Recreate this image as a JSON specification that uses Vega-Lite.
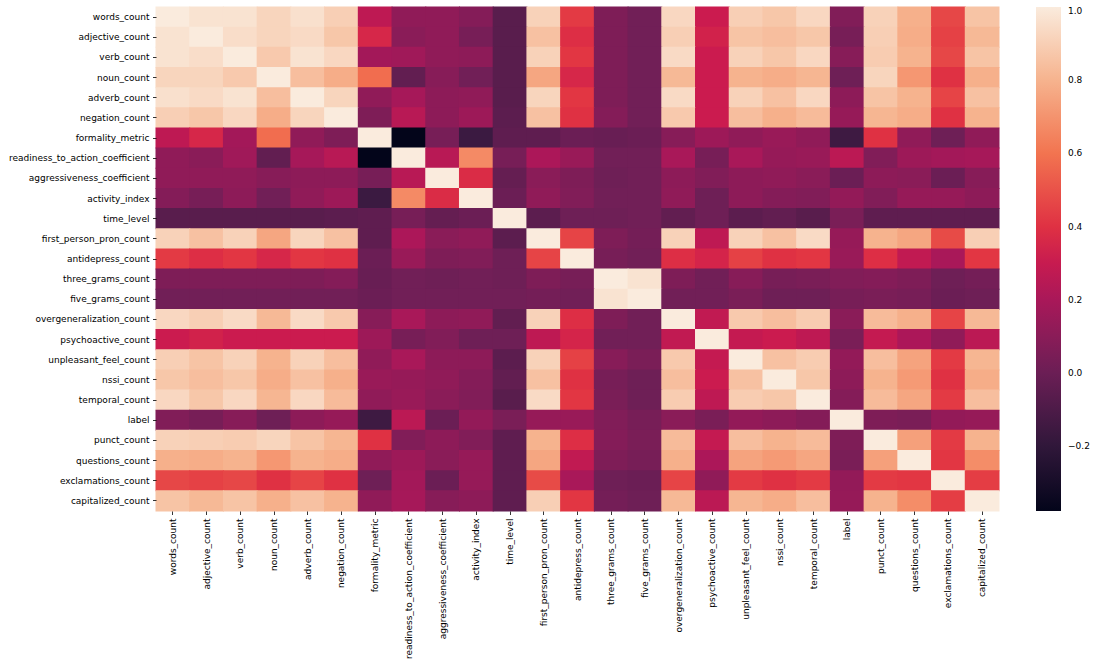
{
  "$schema": "https://vega.github.io/schema/vega-lite/v6.json",
  "width": 843,
  "height": 504,
  "padding": {"left": 8, "top": 6, "right": 5, "bottom": 5},
  "background": "white",
  "config": {"view": {"stroke": null}, "font": "DejaVu Sans"},
  "datasets": {
    "names": [
      {"k": 0, "name": "words_count"}, {"k": 1, "name": "adjective_count"}, {"k": 2, "name": "verb_count"},
      {"k": 3, "name": "noun_count"}, {"k": 4, "name": "adverb_count"}, {"k": 5, "name": "negation_count"},
      {"k": 6, "name": "formality_metric"}, {"k": 7, "name": "readiness_to_action_coefficient"},
      {"k": 8, "name": "aggressiveness_coefficient"}, {"k": 9, "name": "activity_index"},
      {"k": 10, "name": "time_level"}, {"k": 11, "name": "first_person_pron_count"},
      {"k": 12, "name": "antidepress_count"}, {"k": 13, "name": "three_grams_count"},
      {"k": 14, "name": "five_grams_count"}, {"k": 15, "name": "overgeneralization_count"},
      {"k": 16, "name": "psychoactive_count"}, {"k": 17, "name": "unpleasant_feel_count"},
      {"k": 18, "name": "nssi_count"}, {"k": 19, "name": "temporal_count"}, {"k": 20, "name": "label"},
      {"k": 21, "name": "punct_count"}, {"k": 22, "name": "questions_count"},
      {"k": 23, "name": "exclamations_count"}, {"k": 24, "name": "capitalized_count"}
    ],
    "cells": [
{"i":0,"j":0,"v":1},{"i":0,"j":1,"v":0.97},{"i":0,"j":2,"v":0.97},{"i":0,"j":3,"v":0.92},{"i":0,"j":4,"v":0.96},{"i":0,"j":5,"v":0.9},{"i":0,"j":6,"v":0.27},{"i":0,"j":7,"v":0.12},{"i":0,"j":8,"v":0.12},{"i":0,"j":9,"v":0.08},{"i":0,"j":10,"v":-0.06},{"i":0,"j":11,"v":0.91},{"i":0,"j":12,"v":0.43},{"i":0,"j":13,"v":0.06},{"i":0,"j":14,"v":0.02},{"i":0,"j":15,"v":0.93},{"i":0,"j":16,"v":0.31},{"i":0,"j":17,"v":0.9},{"i":0,"j":18,"v":0.87},{"i":0,"j":19,"v":0.93},{"i":0,"j":20,"v":0.07},{"i":0,"j":21,"v":0.91},{"i":0,"j":22,"v":0.79},{"i":0,"j":23,"v":0.47},{"i":0,"j":24,"v":0.86},
{"i":1,"j":0,"v":0.97},{"i":1,"j":1,"v":1},{"i":1,"j":2,"v":0.95},{"i":1,"j":3,"v":0.92},{"i":1,"j":4,"v":0.94},{"i":1,"j":5,"v":0.87},{"i":1,"j":6,"v":0.36},{"i":1,"j":7,"v":0.1},{"i":1,"j":8,"v":0.12},{"i":1,"j":9,"v":0.04},{"i":1,"j":10,"v":-0.06},{"i":1,"j":11,"v":0.85},{"i":1,"j":12,"v":0.39},{"i":1,"j":13,"v":0.06},{"i":1,"j":14,"v":0.02},{"i":1,"j":15,"v":0.9},{"i":1,"j":16,"v":0.34},{"i":1,"j":17,"v":0.86},{"i":1,"j":18,"v":0.84},{"i":1,"j":19,"v":0.87},{"i":1,"j":20,"v":0.04},{"i":1,"j":21,"v":0.9},{"i":1,"j":22,"v":0.78},{"i":1,"j":23,"v":0.45},{"i":1,"j":24,"v":0.82},
{"i":2,"j":0,"v":0.97},{"i":2,"j":1,"v":0.95},{"i":2,"j":2,"v":1},{"i":2,"j":3,"v":0.88},{"i":2,"j":4,"v":0.97},{"i":2,"j":5,"v":0.93},{"i":2,"j":6,"v":0.18},{"i":2,"j":7,"v":0.17},{"i":2,"j":8,"v":0.12},{"i":2,"j":9,"v":0.11},{"i":2,"j":10,"v":-0.06},{"i":2,"j":11,"v":0.91},{"i":2,"j":12,"v":0.42},{"i":2,"j":13,"v":0.06},{"i":2,"j":14,"v":0.02},{"i":2,"j":15,"v":0.94},{"i":2,"j":16,"v":0.31},{"i":2,"j":17,"v":0.91},{"i":2,"j":18,"v":0.87},{"i":2,"j":19,"v":0.93},{"i":2,"j":20,"v":0.09},{"i":2,"j":21,"v":0.89},{"i":2,"j":22,"v":0.8},{"i":2,"j":23,"v":0.47},{"i":2,"j":24,"v":0.86},
{"i":3,"j":0,"v":0.92},{"i":3,"j":1,"v":0.92},{"i":3,"j":2,"v":0.88},{"i":3,"j":3,"v":1},{"i":3,"j":4,"v":0.84},{"i":3,"j":5,"v":0.78},{"i":3,"j":6,"v":0.58},{"i":3,"j":7,"v":-0.03},{"i":3,"j":8,"v":0.09},{"i":3,"j":9,"v":0.02},{"i":3,"j":10,"v":-0.06},{"i":3,"j":11,"v":0.76},{"i":3,"j":12,"v":0.36},{"i":3,"j":13,"v":0.06},{"i":3,"j":14,"v":0.02},{"i":3,"j":15,"v":0.82},{"i":3,"j":16,"v":0.31},{"i":3,"j":17,"v":0.8},{"i":3,"j":18,"v":0.78},{"i":3,"j":19,"v":0.81},{"i":3,"j":20,"v":0.01},{"i":3,"j":21,"v":0.92},{"i":3,"j":22,"v":0.71},{"i":3,"j":23,"v":0.4},{"i":3,"j":24,"v":0.79},
{"i":4,"j":0,"v":0.96},{"i":4,"j":1,"v":0.94},{"i":4,"j":2,"v":0.97},{"i":4,"j":3,"v":0.84},{"i":4,"j":4,"v":1},{"i":4,"j":5,"v":0.92},{"i":4,"j":6,"v":0.12},{"i":4,"j":7,"v":0.19},{"i":4,"j":8,"v":0.11},{"i":4,"j":9,"v":0.12},{"i":4,"j":10,"v":-0.06},{"i":4,"j":11,"v":0.92},{"i":4,"j":12,"v":0.42},{"i":4,"j":13,"v":0.06},{"i":4,"j":14,"v":0.02},{"i":4,"j":15,"v":0.94},{"i":4,"j":16,"v":0.31},{"i":4,"j":17,"v":0.91},{"i":4,"j":18,"v":0.85},{"i":4,"j":19,"v":0.93},{"i":4,"j":20,"v":0.11},{"i":4,"j":21,"v":0.86},{"i":4,"j":22,"v":0.8},{"i":4,"j":23,"v":0.46},{"i":4,"j":24,"v":0.85},
{"i":5,"j":0,"v":0.9},{"i":5,"j":1,"v":0.87},{"i":5,"j":2,"v":0.93},{"i":5,"j":3,"v":0.78},{"i":5,"j":4,"v":0.92},{"i":5,"j":5,"v":1},{"i":5,"j":6,"v":0.06},{"i":5,"j":7,"v":0.25},{"i":5,"j":8,"v":0.11},{"i":5,"j":9,"v":0.16},{"i":5,"j":10,"v":-0.05},{"i":5,"j":11,"v":0.85},{"i":5,"j":12,"v":0.4},{"i":5,"j":13,"v":0.08},{"i":5,"j":14,"v":0.02},{"i":5,"j":15,"v":0.88},{"i":5,"j":16,"v":0.31},{"i":5,"j":17,"v":0.84},{"i":5,"j":18,"v":0.79},{"i":5,"j":19,"v":0.83},{"i":5,"j":20,"v":0.14},{"i":5,"j":21,"v":0.81},{"i":5,"j":22,"v":0.78},{"i":5,"j":23,"v":0.4},{"i":5,"j":24,"v":0.8},
{"i":6,"j":0,"v":0.27},{"i":6,"j":1,"v":0.36},{"i":6,"j":2,"v":0.18},{"i":6,"j":3,"v":0.58},{"i":6,"j":4,"v":0.12},{"i":6,"j":5,"v":0.06},{"i":6,"j":6,"v":1},{"i":6,"j":7,"v":-0.377},{"i":6,"j":8,"v":0.04},{"i":6,"j":9,"v":-0.16},{"i":6,"j":10,"v":-0.04},{"i":6,"j":11,"v":-0.04},{"i":6,"j":12,"v":0},{"i":6,"j":13,"v":-0.01},{"i":6,"j":14,"v":0},{"i":6,"j":15,"v":0.09},{"i":6,"j":16,"v":0.16},{"i":6,"j":17,"v":0.12},{"i":6,"j":18,"v":0.15},{"i":6,"j":19,"v":0.12},{"i":6,"j":20,"v":-0.15},{"i":6,"j":21,"v":0.4},{"i":6,"j":22,"v":0.12},{"i":6,"j":23,"v":0.01},{"i":6,"j":24,"v":0.12},
{"i":7,"j":0,"v":0.12},{"i":7,"j":1,"v":0.1},{"i":7,"j":2,"v":0.17},{"i":7,"j":3,"v":-0.03},{"i":7,"j":4,"v":0.19},{"i":7,"j":5,"v":0.25},{"i":7,"j":6,"v":-0.377},{"i":7,"j":7,"v":1},{"i":7,"j":8,"v":0.25},{"i":7,"j":9,"v":0.67},{"i":7,"j":10,"v":0.04},{"i":7,"j":11,"v":0.21},{"i":7,"j":12,"v":0.15},{"i":7,"j":13,"v":0.02},{"i":7,"j":14,"v":0.02},{"i":7,"j":15,"v":0.2},{"i":7,"j":16,"v":0.04},{"i":7,"j":17,"v":0.2},{"i":7,"j":18,"v":0.14},{"i":7,"j":19,"v":0.15},{"i":7,"j":20,"v":0.26},{"i":7,"j":21,"v":0.07},{"i":7,"j":22,"v":0.16},{"i":7,"j":23,"v":0.18},{"i":7,"j":24,"v":0.19},
{"i":8,"j":0,"v":0.12},{"i":8,"j":1,"v":0.12},{"i":8,"j":2,"v":0.12},{"i":8,"j":3,"v":0.09},{"i":8,"j":4,"v":0.11},{"i":8,"j":5,"v":0.11},{"i":8,"j":6,"v":0.04},{"i":8,"j":7,"v":0.25},{"i":8,"j":8,"v":1},{"i":8,"j":9,"v":0.38},{"i":8,"j":10,"v":-0.02},{"i":8,"j":11,"v":0.1},{"i":8,"j":12,"v":0.06},{"i":8,"j":13,"v":0.01},{"i":8,"j":14,"v":0.02},{"i":8,"j":15,"v":0.11},{"i":8,"j":16,"v":0.07},{"i":8,"j":17,"v":0.11},{"i":8,"j":18,"v":0.12},{"i":8,"j":19,"v":0.1},{"i":8,"j":20,"v":0},{"i":8,"j":21,"v":0.11},{"i":8,"j":22,"v":0.1},{"i":8,"j":23,"v":0},{"i":8,"j":24,"v":0.09},
{"i":9,"j":0,"v":0.08},{"i":9,"j":1,"v":0.04},{"i":9,"j":2,"v":0.11},{"i":9,"j":3,"v":0.02},{"i":9,"j":4,"v":0.12},{"i":9,"j":5,"v":0.16},{"i":9,"j":6,"v":-0.16},{"i":9,"j":7,"v":0.67},{"i":9,"j":8,"v":0.38},{"i":9,"j":9,"v":1},{"i":9,"j":10,"v":0},{"i":9,"j":11,"v":0.12},{"i":9,"j":12,"v":0.07},{"i":9,"j":13,"v":0.02},{"i":9,"j":14,"v":0.02},{"i":9,"j":15,"v":0.12},{"i":9,"j":16,"v":0.01},{"i":9,"j":17,"v":0.11},{"i":9,"j":18,"v":0.08},{"i":9,"j":19,"v":0.07},{"i":9,"j":20,"v":0.13},{"i":9,"j":21,"v":0.07},{"i":9,"j":22,"v":0.14},{"i":9,"j":23,"v":0.14},{"i":9,"j":24,"v":0.11},
{"i":10,"j":0,"v":-0.06},{"i":10,"j":1,"v":-0.06},{"i":10,"j":2,"v":-0.06},{"i":10,"j":3,"v":-0.06},{"i":10,"j":4,"v":-0.06},{"i":10,"j":5,"v":-0.05},{"i":10,"j":6,"v":-0.04},{"i":10,"j":7,"v":0.04},{"i":10,"j":8,"v":-0.02},{"i":10,"j":9,"v":0},{"i":10,"j":10,"v":1},{"i":10,"j":11,"v":-0.05},{"i":10,"j":12,"v":0.01},{"i":10,"j":13,"v":0.01},{"i":10,"j":14,"v":0.02},{"i":10,"j":15,"v":-0.03},{"i":10,"j":16,"v":0.01},{"i":10,"j":17,"v":-0.05},{"i":10,"j":18,"v":-0.03},{"i":10,"j":19,"v":-0.06},{"i":10,"j":20,"v":0.05},{"i":10,"j":21,"v":-0.04},{"i":10,"j":22,"v":-0.04},{"i":10,"j":23,"v":-0.04},{"i":10,"j":24,"v":-0.04},
{"i":11,"j":0,"v":0.91},{"i":11,"j":1,"v":0.85},{"i":11,"j":2,"v":0.91},{"i":11,"j":3,"v":0.76},{"i":11,"j":4,"v":0.92},{"i":11,"j":5,"v":0.85},{"i":11,"j":6,"v":-0.04},{"i":11,"j":7,"v":0.21},{"i":11,"j":8,"v":0.1},{"i":11,"j":9,"v":0.12},{"i":11,"j":10,"v":-0.05},{"i":11,"j":11,"v":1},{"i":11,"j":12,"v":0.46},{"i":11,"j":13,"v":0.06},{"i":11,"j":14,"v":0.03},{"i":11,"j":15,"v":0.91},{"i":11,"j":16,"v":0.27},{"i":11,"j":17,"v":0.91},{"i":11,"j":18,"v":0.85},{"i":11,"j":19,"v":0.94},{"i":11,"j":20,"v":0.14},{"i":11,"j":21,"v":0.8},{"i":11,"j":22,"v":0.76},{"i":11,"j":23,"v":0.48},{"i":11,"j":24,"v":0.9},
{"i":12,"j":0,"v":0.43},{"i":12,"j":1,"v":0.39},{"i":12,"j":2,"v":0.42},{"i":12,"j":3,"v":0.36},{"i":12,"j":4,"v":0.42},{"i":12,"j":5,"v":0.4},{"i":12,"j":6,"v":0},{"i":12,"j":7,"v":0.15},{"i":12,"j":8,"v":0.06},{"i":12,"j":9,"v":0.07},{"i":12,"j":10,"v":0.01},{"i":12,"j":11,"v":0.46},{"i":12,"j":12,"v":1},{"i":12,"j":13,"v":0.04},{"i":12,"j":14,"v":0.02},{"i":12,"j":15,"v":0.39},{"i":12,"j":16,"v":0.35},{"i":12,"j":17,"v":0.45},{"i":12,"j":18,"v":0.4},{"i":12,"j":19,"v":0.42},{"i":12,"j":20,"v":0.15},{"i":12,"j":21,"v":0.39},{"i":12,"j":22,"v":0.28},{"i":12,"j":23,"v":0.2},{"i":12,"j":24,"v":0.42},
{"i":13,"j":0,"v":0.06},{"i":13,"j":1,"v":0.06},{"i":13,"j":2,"v":0.06},{"i":13,"j":3,"v":0.06},{"i":13,"j":4,"v":0.06},{"i":13,"j":5,"v":0.08},{"i":13,"j":6,"v":-0.01},{"i":13,"j":7,"v":0.02},{"i":13,"j":8,"v":0.01},{"i":13,"j":9,"v":0.02},{"i":13,"j":10,"v":0.01},{"i":13,"j":11,"v":0.06},{"i":13,"j":12,"v":0.04},{"i":13,"j":13,"v":1},{"i":13,"j":14,"v":0.97},{"i":13,"j":15,"v":0.06},{"i":13,"j":16,"v":0.02},{"i":13,"j":17,"v":0.09},{"i":13,"j":18,"v":0.04},{"i":13,"j":19,"v":0.05},{"i":13,"j":20,"v":0.07},{"i":13,"j":21,"v":0.08},{"i":13,"j":22,"v":0.06},{"i":13,"j":23,"v":0.01},{"i":13,"j":24,"v":0.03},
{"i":14,"j":0,"v":0.02},{"i":14,"j":1,"v":0.02},{"i":14,"j":2,"v":0.02},{"i":14,"j":3,"v":0.02},{"i":14,"j":4,"v":0.02},{"i":14,"j":5,"v":0.02},{"i":14,"j":6,"v":0},{"i":14,"j":7,"v":0.02},{"i":14,"j":8,"v":0.02},{"i":14,"j":9,"v":0.02},{"i":14,"j":10,"v":0.02},{"i":14,"j":11,"v":0.03},{"i":14,"j":12,"v":0.02},{"i":14,"j":13,"v":0.97},{"i":14,"j":14,"v":1},{"i":14,"j":15,"v":0.02},{"i":14,"j":16,"v":0.02},{"i":14,"j":17,"v":0.05},{"i":14,"j":18,"v":0.01},{"i":14,"j":19,"v":0.01},{"i":14,"j":20,"v":0.04},{"i":14,"j":21,"v":0.05},{"i":14,"j":22,"v":0.04},{"i":14,"j":23,"v":0},{"i":14,"j":24,"v":0.01},
{"i":15,"j":0,"v":0.93},{"i":15,"j":1,"v":0.9},{"i":15,"j":2,"v":0.94},{"i":15,"j":3,"v":0.82},{"i":15,"j":4,"v":0.94},{"i":15,"j":5,"v":0.88},{"i":15,"j":6,"v":0.09},{"i":15,"j":7,"v":0.2},{"i":15,"j":8,"v":0.11},{"i":15,"j":9,"v":0.12},{"i":15,"j":10,"v":-0.03},{"i":15,"j":11,"v":0.91},{"i":15,"j":12,"v":0.39},{"i":15,"j":13,"v":0.06},{"i":15,"j":14,"v":0.02},{"i":15,"j":15,"v":1},{"i":15,"j":16,"v":0.28},{"i":15,"j":17,"v":0.88},{"i":15,"j":18,"v":0.84},{"i":15,"j":19,"v":0.89},{"i":15,"j":20,"v":0.1},{"i":15,"j":21,"v":0.83},{"i":15,"j":22,"v":0.79},{"i":15,"j":23,"v":0.46},{"i":15,"j":24,"v":0.82},
{"i":16,"j":0,"v":0.31},{"i":16,"j":1,"v":0.34},{"i":16,"j":2,"v":0.31},{"i":16,"j":3,"v":0.31},{"i":16,"j":4,"v":0.31},{"i":16,"j":5,"v":0.31},{"i":16,"j":6,"v":0.16},{"i":16,"j":7,"v":0.04},{"i":16,"j":8,"v":0.07},{"i":16,"j":9,"v":0.01},{"i":16,"j":10,"v":0.01},{"i":16,"j":11,"v":0.27},{"i":16,"j":12,"v":0.35},{"i":16,"j":13,"v":0.02},{"i":16,"j":14,"v":0.02},{"i":16,"j":15,"v":0.28},{"i":16,"j":16,"v":1},{"i":16,"j":17,"v":0.29},{"i":16,"j":18,"v":0.31},{"i":16,"j":19,"v":0.27},{"i":16,"j":20,"v":0.05},{"i":16,"j":21,"v":0.29},{"i":16,"j":22,"v":0.21},{"i":16,"j":23,"v":0.12},{"i":16,"j":24,"v":0.26},
{"i":17,"j":0,"v":0.9},{"i":17,"j":1,"v":0.86},{"i":17,"j":2,"v":0.91},{"i":17,"j":3,"v":0.8},{"i":17,"j":4,"v":0.91},{"i":17,"j":5,"v":0.84},{"i":17,"j":6,"v":0.12},{"i":17,"j":7,"v":0.2},{"i":17,"j":8,"v":0.11},{"i":17,"j":9,"v":0.11},{"i":17,"j":10,"v":-0.05},{"i":17,"j":11,"v":0.91},{"i":17,"j":12,"v":0.45},{"i":17,"j":13,"v":0.09},{"i":17,"j":14,"v":0.05},{"i":17,"j":15,"v":0.88},{"i":17,"j":16,"v":0.29},{"i":17,"j":17,"v":1},{"i":17,"j":18,"v":0.85},{"i":17,"j":19,"v":0.89},{"i":17,"j":20,"v":0.13},{"i":17,"j":21,"v":0.84},{"i":17,"j":22,"v":0.75},{"i":17,"j":23,"v":0.43},{"i":17,"j":24,"v":0.81},
{"i":18,"j":0,"v":0.87},{"i":18,"j":1,"v":0.84},{"i":18,"j":2,"v":0.87},{"i":18,"j":3,"v":0.78},{"i":18,"j":4,"v":0.85},{"i":18,"j":5,"v":0.79},{"i":18,"j":6,"v":0.15},{"i":18,"j":7,"v":0.14},{"i":18,"j":8,"v":0.12},{"i":18,"j":9,"v":0.08},{"i":18,"j":10,"v":-0.03},{"i":18,"j":11,"v":0.85},{"i":18,"j":12,"v":0.4},{"i":18,"j":13,"v":0.04},{"i":18,"j":14,"v":0.01},{"i":18,"j":15,"v":0.84},{"i":18,"j":16,"v":0.31},{"i":18,"j":17,"v":0.85},{"i":18,"j":18,"v":1},{"i":18,"j":19,"v":0.87},{"i":18,"j":20,"v":0.11},{"i":18,"j":21,"v":0.8},{"i":18,"j":22,"v":0.72},{"i":18,"j":23,"v":0.4},{"i":18,"j":24,"v":0.78},
{"i":19,"j":0,"v":0.93},{"i":19,"j":1,"v":0.87},{"i":19,"j":2,"v":0.93},{"i":19,"j":3,"v":0.81},{"i":19,"j":4,"v":0.93},{"i":19,"j":5,"v":0.83},{"i":19,"j":6,"v":0.12},{"i":19,"j":7,"v":0.15},{"i":19,"j":8,"v":0.1},{"i":19,"j":9,"v":0.07},{"i":19,"j":10,"v":-0.06},{"i":19,"j":11,"v":0.94},{"i":19,"j":12,"v":0.42},{"i":19,"j":13,"v":0.05},{"i":19,"j":14,"v":0.01},{"i":19,"j":15,"v":0.89},{"i":19,"j":16,"v":0.27},{"i":19,"j":17,"v":0.89},{"i":19,"j":18,"v":0.87},{"i":19,"j":19,"v":1},{"i":19,"j":20,"v":0.08},{"i":19,"j":21,"v":0.83},{"i":19,"j":22,"v":0.76},{"i":19,"j":23,"v":0.43},{"i":19,"j":24,"v":0.84},
{"i":20,"j":0,"v":0.07},{"i":20,"j":1,"v":0.04},{"i":20,"j":2,"v":0.09},{"i":20,"j":3,"v":0.01},{"i":20,"j":4,"v":0.11},{"i":20,"j":5,"v":0.14},{"i":20,"j":6,"v":-0.15},{"i":20,"j":7,"v":0.26},{"i":20,"j":8,"v":0},{"i":20,"j":9,"v":0.13},{"i":20,"j":10,"v":0.05},{"i":20,"j":11,"v":0.14},{"i":20,"j":12,"v":0.15},{"i":20,"j":13,"v":0.07},{"i":20,"j":14,"v":0.04},{"i":20,"j":15,"v":0.1},{"i":20,"j":16,"v":0.05},{"i":20,"j":17,"v":0.13},{"i":20,"j":18,"v":0.11},{"i":20,"j":19,"v":0.08},{"i":20,"j":20,"v":1},{"i":20,"j":21,"v":0.06},{"i":20,"j":22,"v":0.05},{"i":20,"j":23,"v":0.13},{"i":20,"j":24,"v":0.14},
{"i":21,"j":0,"v":0.91},{"i":21,"j":1,"v":0.9},{"i":21,"j":2,"v":0.89},{"i":21,"j":3,"v":0.92},{"i":21,"j":4,"v":0.86},{"i":21,"j":5,"v":0.81},{"i":21,"j":6,"v":0.4},{"i":21,"j":7,"v":0.07},{"i":21,"j":8,"v":0.11},{"i":21,"j":9,"v":0.07},{"i":21,"j":10,"v":-0.04},{"i":21,"j":11,"v":0.8},{"i":21,"j":12,"v":0.39},{"i":21,"j":13,"v":0.08},{"i":21,"j":14,"v":0.05},{"i":21,"j":15,"v":0.83},{"i":21,"j":16,"v":0.29},{"i":21,"j":17,"v":0.84},{"i":21,"j":18,"v":0.8},{"i":21,"j":19,"v":0.83},{"i":21,"j":20,"v":0.06},{"i":21,"j":21,"v":1},{"i":21,"j":22,"v":0.74},{"i":21,"j":23,"v":0.43},{"i":21,"j":24,"v":0.8},
{"i":22,"j":0,"v":0.79},{"i":22,"j":1,"v":0.78},{"i":22,"j":2,"v":0.8},{"i":22,"j":3,"v":0.71},{"i":22,"j":4,"v":0.8},{"i":22,"j":5,"v":0.78},{"i":22,"j":6,"v":0.12},{"i":22,"j":7,"v":0.16},{"i":22,"j":8,"v":0.1},{"i":22,"j":9,"v":0.14},{"i":22,"j":10,"v":-0.04},{"i":22,"j":11,"v":0.76},{"i":22,"j":12,"v":0.28},{"i":22,"j":13,"v":0.06},{"i":22,"j":14,"v":0.04},{"i":22,"j":15,"v":0.79},{"i":22,"j":16,"v":0.21},{"i":22,"j":17,"v":0.75},{"i":22,"j":18,"v":0.72},{"i":22,"j":19,"v":0.76},{"i":22,"j":20,"v":0.05},{"i":22,"j":21,"v":0.74},{"i":22,"j":22,"v":1},{"i":22,"j":23,"v":0.42},{"i":22,"j":24,"v":0.68},
{"i":23,"j":0,"v":0.47},{"i":23,"j":1,"v":0.45},{"i":23,"j":2,"v":0.47},{"i":23,"j":3,"v":0.4},{"i":23,"j":4,"v":0.46},{"i":23,"j":5,"v":0.4},{"i":23,"j":6,"v":0.01},{"i":23,"j":7,"v":0.18},{"i":23,"j":8,"v":0},{"i":23,"j":9,"v":0.14},{"i":23,"j":10,"v":-0.04},{"i":23,"j":11,"v":0.48},{"i":23,"j":12,"v":0.2},{"i":23,"j":13,"v":0.01},{"i":23,"j":14,"v":0},{"i":23,"j":15,"v":0.46},{"i":23,"j":16,"v":0.12},{"i":23,"j":17,"v":0.43},{"i":23,"j":18,"v":0.4},{"i":23,"j":19,"v":0.43},{"i":23,"j":20,"v":0.13},{"i":23,"j":21,"v":0.43},{"i":23,"j":22,"v":0.42},{"i":23,"j":23,"v":1},{"i":23,"j":24,"v":0.44},
{"i":24,"j":0,"v":0.86},{"i":24,"j":1,"v":0.82},{"i":24,"j":2,"v":0.86},{"i":24,"j":3,"v":0.79},{"i":24,"j":4,"v":0.85},{"i":24,"j":5,"v":0.8},{"i":24,"j":6,"v":0.12},{"i":24,"j":7,"v":0.19},{"i":24,"j":8,"v":0.09},{"i":24,"j":9,"v":0.11},{"i":24,"j":10,"v":-0.04},{"i":24,"j":11,"v":0.9},{"i":24,"j":12,"v":0.42},{"i":24,"j":13,"v":0.03},{"i":24,"j":14,"v":0.01},{"i":24,"j":15,"v":0.82},{"i":24,"j":16,"v":0.26},{"i":24,"j":17,"v":0.81},{"i":24,"j":18,"v":0.78},{"i":24,"j":19,"v":0.84},{"i":24,"j":20,"v":0.14},{"i":24,"j":21,"v":0.8},{"i":24,"j":22,"v":0.68},{"i":24,"j":23,"v":0.44},{"i":24,"j":24,"v":1}
    ]
  },
  "data": {"name": "cells"},
  "transform": [
    {"lookup": "i", "from": {"data": {"name": "names"}, "key": "k", "fields": ["name"]}, "as": ["row"]},
    {"lookup": "j", "from": {"data": {"name": "names"}, "key": "k", "fields": ["name"]}, "as": ["col"]}
  ],
  "mark": {"type": "rect", "width": {"band": 1.03}, "height": {"band": 1.05}},
  "encoding": {
    "x": {
      "field": "col", "type": "nominal",
      "sort": ["words_count", "adjective_count", "verb_count", "noun_count", "adverb_count", "negation_count", "formality_metric", "readiness_to_action_coefficient", "aggressiveness_coefficient", "activity_index", "time_level", "first_person_pron_count", "antidepress_count", "three_grams_count", "five_grams_count", "overgeneralization_count", "psychoactive_count", "unpleasant_feel_count", "nssi_count", "temporal_count", "label", "punct_count", "questions_count", "exclamations_count", "capitalized_count"],
      "scale": {"paddingInner": 0, "paddingOuter": 0},
      "axis": {"title": null, "labelAngle": -90, "labelFontSize": 9, "labelColor": "#000", "tickSize": 3.5, "tickWidth": 0.8, "tickColor": "#000", "labelPadding": 3.5, "domain": false, "labelOverlap": false}
    },
    "y": {
      "field": "row", "type": "nominal",
      "sort": ["words_count", "adjective_count", "verb_count", "noun_count", "adverb_count", "negation_count", "formality_metric", "readiness_to_action_coefficient", "aggressiveness_coefficient", "activity_index", "time_level", "first_person_pron_count", "antidepress_count", "three_grams_count", "five_grams_count", "overgeneralization_count", "psychoactive_count", "unpleasant_feel_count", "nssi_count", "temporal_count", "label", "punct_count", "questions_count", "exclamations_count", "capitalized_count"],
      "scale": {"paddingInner": 0, "paddingOuter": 0},
      "axis": {"title": null, "labelFontSize": 9, "labelColor": "#000", "tickSize": 3.5, "tickWidth": 0.8, "tickColor": "#000", "labelPadding": 3.5, "domain": false, "labelOverlap": false}
    },
    "color": {
      "field": "v", "type": "quantitative",
      "scale": {
        "domain": [-0.377, -0.1803, 0.0164, 0.2131, 0.3115, 0.4099, 0.6066, 0.8033, 1.0],
        "range": ["#03051a", "#35193e", "#701f57", "#ad1759", "#cb1b4f", "#e13342", "#f37651", "#f6b48f", "#faebdd"],
        "interpolate": "rgb"
      },
      "legend": {
        "title": null, "orient": "right", "offset": 37, "padding": 0,
        "gradientLength": 504, "gradientThickness": 25, "gradientStrokeWidth": 0,
        "values": [-0.2, 0, 0.2, 0.4, 0.6, 0.8, 1.0], "format": ".1f",
        "labelFontSize": 9, "labelColor": "#000", "labelOffset": 7, "labelBaseline": "middle"
      }
    }
  }
}
